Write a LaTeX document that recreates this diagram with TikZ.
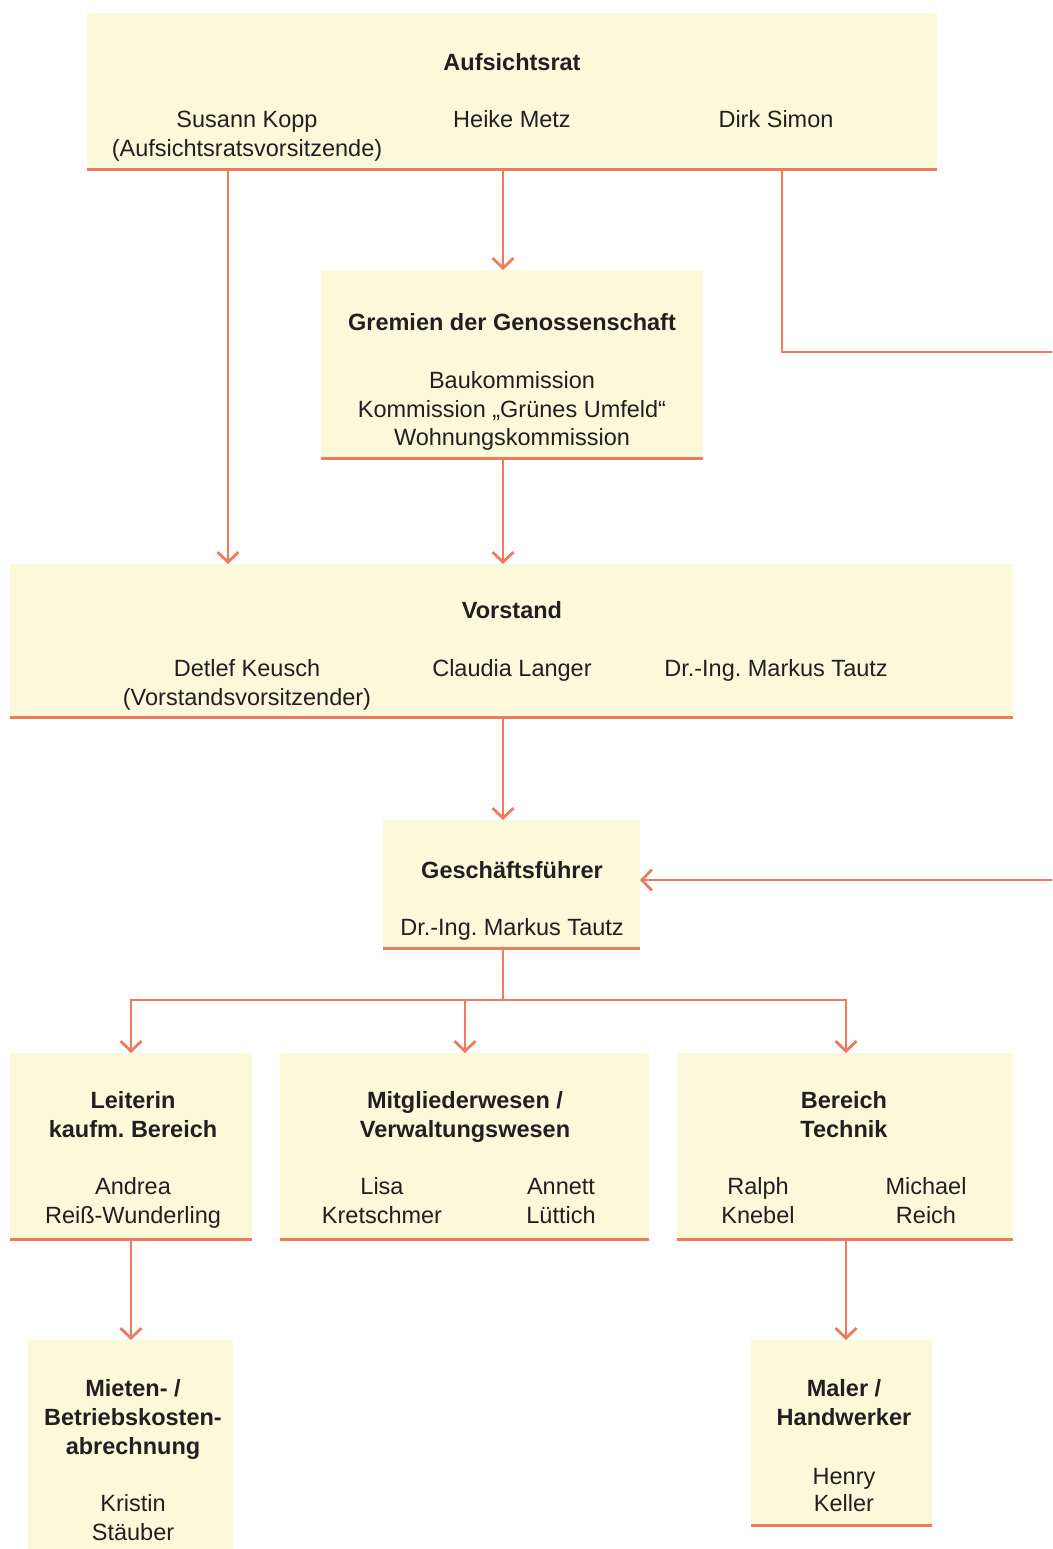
\documentclass[tikz,border=0pt]{standalone}
\usepackage{fontspec}
\setmainfont{Liberation Sans}
\usetikzlibrary{arrows.meta}
\definecolor{boxfill}{HTML}{FAFADA}
\definecolor{linecol}{HTML}{F07B5C}
\definecolor{txtcol}{HTML}{231F20}
\frenchspacing
\begin{document}
\begin{tikzpicture}[x=1pt,y=-1pt,
  box/.style={fill=boxfill, draw=none, inner sep=0pt, outer sep=0pt},
  rule/.style={draw=linecol, line width=3pt},
  conn/.style={draw=linecol, line width=2.8pt},
  arr/.style={conn, -{Straight Barb[length=10pt,width=21pt]}},
  txt/.style={anchor=base, inner sep=0pt, font=\fontsize{23.5}{29}\selectfont\frenchspacing, text=txtcol},
  ttl/.style={txt, font=\fontsize{23.5}{29}\selectfont\bfseries\frenchspacing}]
\useasboundingbox (0,0) rectangle (1052,1549);

% boxes
\node[box, minimum width=850pt, minimum height=157pt] (auf) at (512,91.5) {};
\node[box, minimum width=382pt, minimum height=188pt] (grem) at (512,364) {};
\node[box, minimum width=1003pt, minimum height=153pt] (vor) at (511.5,640.5) {};
\node[box, minimum width=257pt, minimum height=128pt] (gf) at (511.5,884) {};
\node[box, minimum width=242pt, minimum height=186pt] (lei) at (131,1146) {};
\node[box, minimum width=369pt, minimum height=186pt] (mit) at (464.5,1146) {};
\node[box, minimum width=336pt, minimum height=186pt] (tec) at (845,1146) {};
\node[box, minimum width=205pt, minimum height=209pt] (mie) at (130.5,1444.5) {};
\node[box, minimum width=181pt, minimum height=185pt] (mal) at (841.5,1432.5) {};

% bottom rules
\foreach \b in {auf,grem,vor,gf,lei,mit,tec,mal}
  \draw[rule] (\b.south west) -- (\b.south east);

% texts
\node[ttl] (t1) at (512,71) {Aufsichtsrat};
\node[txt] (t2) at (247,128) {Susann Kopp};
\node[txt] (t3) at (247,157) {(Aufsichtsratsvorsitzende)};
\node[txt] (t4) at (512,128) {Heike Metz};
\node[txt] (t5) at (776,128) {Dirk Simon};

\node[ttl] (t6) at (512,330) {Gremien der Genossenschaft};
\node[txt] (t7) at (512,388) {Baukommission};
\node[txt] (t8) at (512,417) {Kommission „Grünes Umfeld“};
\node[txt] (t9) at (512,445) {Wohnungskommission};

\node[ttl] (t10) at (512,618) {Vorstand};
\node[txt] (t11) at (247,676) {Detlef Keusch};
\node[txt] (t12) at (247,705) {(Vorstandsvorsitzender)};
\node[txt] (t13) at (512,676) {Claudia Langer};
\node[txt] (t14) at (776,676) {Dr.-Ing. Markus Tautz};

\node[ttl] (t15) at (512,878) {Geschäftsführer};
\node[txt] (t16) at (512,935) {Dr.-Ing. Markus Tautz};

\node[ttl] (t17) at (133,1108) {Leiterin};
\node[ttl] (t18) at (133,1137) {kaufm. Bereich};
\node[txt] (t19) at (133,1194) {Andrea};
\node[txt] (t20) at (133,1223) {Reiß-Wunderling};

\node[ttl] (t21) at (465,1108) {Mitgliederwesen /};
\node[ttl] (t22) at (465,1137) {Verwaltungswesen};
\node[txt] (t23) at (382,1194) {Lisa};
\node[txt] (t24) at (382,1223) {Kretschmer};
\node[txt] (t25) at (561,1194) {Annett};
\node[txt] (t26) at (561,1223) {Lüttich};

\node[ttl] (t27) at (844,1108) {Bereich};
\node[ttl] (t28) at (844,1137) {Technik};
\node[txt] (t29) at (758,1194) {Ralph};
\node[txt] (t30) at (758,1223) {Knebel};
\node[txt] (t31) at (926,1194) {Michael};
\node[txt] (t32) at (926,1223) {Reich};

\node[ttl] (t33) at (133,1396) {Mieten- /};
\node[ttl] (t34) at (133,1425) {Betriebskosten-};
\node[ttl] (t35) at (133,1454) {abrechnung};
\node[txt] (t36) at (133,1511) {Kristin};
\node[txt] (t37) at (133,1540) {Stäuber};

\node[ttl] (t38) at (844,1396) {Maler /};
\node[ttl] (t39) at (844,1425) {Handwerker};
\node[txt] (t40) at (844,1484) {Henry};
\node[txt] (t41) at (844,1511) {Keller};

% connectors
\draw[arr] (228,0 |- auf.south) -- (228,0 |- vor.north);
\draw[arr] (503,0 |- auf.south) -- (503,0 |- grem.north);
\draw[arr] (503,0 |- grem.south) -- (503,0 |- vor.north);
\draw[arr] (503,0 |- vor.south) -- (503,0 |- gf.north);

\begin{scope}
  \clip (0,0) rectangle (1052,1549);
  \coordinate (edgeA) at (1064,352);
  \draw[arr] (782,0 |- auf.south) |- (edgeA) |- (gf.east |- 0,880);
\end{scope}

\coordinate (split) at (503,1000);
\draw[conn] (503,0 |- gf.south) -- (split);
\draw[arr] (split) -| (lei.north);
\draw[arr] (split) -| (465,0 |- mit.north);
\draw[arr] (split) -| (846,0 |- tec.north);
\draw[arr] (131,0 |- lei.south) -- (131,0 |- mie.north);
\draw[arr] (846,0 |- tec.south) -- (846,0 |- mal.north);
\end{tikzpicture}
\end{document}
